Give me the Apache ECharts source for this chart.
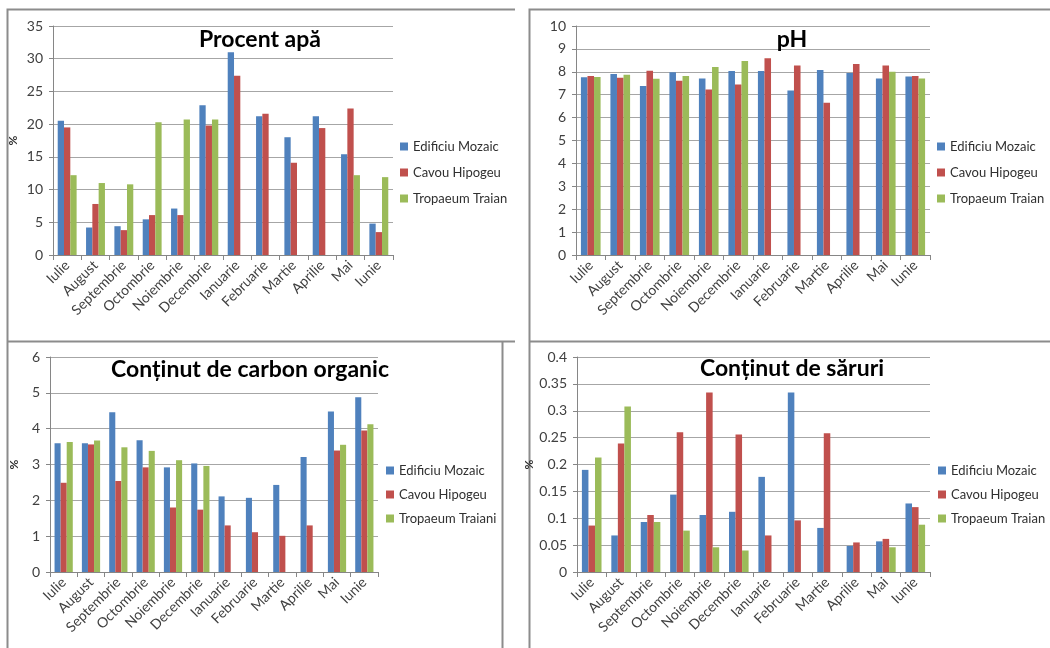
<!DOCTYPE html>
<html>
<head>
<meta charset="utf-8">
<script src="https://cdn.jsdelivr.net/npm/echarts@6/dist/echarts.min.js"></script>
<style>
html,body{margin:0;padding:0;background:#fff;}
#chart{width:1050px;height:648px;}
</style>
</head>
<body>
<div id="chart"></div>
<script>
const months = ['Iulie','August','Septembrie','Octombrie','Noiembrie','Decembrie','Ianuarie','Februarie','Martie','Aprilie','Mai','Iunie'];

const titles = ['Procent apă', 'pH', 'Conținut de carbon organic', 'Conținut de săruri'];
const seriesNames = ['Edificiu Mozaic', 'Cavou Hipogeu', 'Tropaeum Traian'];
const seriesNamesCarbon = ['Edificiu Mozaic', 'Cavou Hipogeu', 'Tropaeum Traiani'];

// Procent apă
const apaMozaic   = [20.5, 4.2, 4.4, 5.45, 7.1, 22.9, 31.0, 21.2, 18.0, 21.2, 15.4, 4.8];
const apaHipogeu  = [19.5, 7.8, 3.8, 6.1, 6.1, 19.8, 27.4, 21.6, 14.1, 19.4, 22.4, 3.5];
const apaTraian   = [12.2, 11.0, 10.8, 20.3, 20.7, 20.7, null, null, null, null, 12.2, 11.9];

// pH
const phMozaic    = [7.76, 7.90, 7.38, 7.98, 7.71, 8.03, 8.03, 7.18, 8.08, 7.95, 7.71, 7.79];
const phHipogeu   = [7.82, 7.74, 8.05, 7.61, 7.23, 7.45, 8.59, 8.27, 6.65, 8.34, 8.27, 7.82];
const phTraian    = [7.77, 7.87, 7.70, 7.82, 8.21, 8.47, null, null, null, null, 8.00, 7.71];

// Conținut de carbon organic
const carbMozaic  = [3.59, 3.59, 4.46, 3.68, 2.92, 3.03, 2.11, 2.07, 2.43, 3.21, 4.48, 4.88];
const carbHipogeu = [2.49, 3.56, 2.54, 2.92, 1.80, 1.74, 1.30, 1.11, 1.01, 1.30, 3.39, 3.95];
const carbTraian  = [3.63, 3.67, 3.48, 3.38, 3.12, 2.96, null, null, null, null, 3.55, 4.12];

// Conținut de săruri
const sarMozaic   = [0.190, 0.068, 0.093, 0.144, 0.106, 0.112, 0.177, 0.334, 0.082, 0.0485, 0.057, 0.1275];
const sarHipogeu  = [0.0864, 0.239, 0.106, 0.260, 0.334, 0.256, 0.068, 0.096, 0.258, 0.055, 0.0616, 0.1207];
const sarTraian   = [0.213, 0.308, 0.093, 0.077, 0.046, 0.040, null, null, null, null, 0.046, 0.088];

const yMax = [35, 10, 6, 0.4];
const yInterval = [5, 1, 1, 0.05];

const colors = ['#4F81BD', '#C0504D', '#9BBB59'];
const FONT = 'Lato, "Liberation Sans", sans-serif';

const grids = [
  {left: 53, width: 340, top: 26, height: 229},
  {left: 576, width: 354, top: 26, height: 229},
  {left: 50, width: 328, top: 357, height: 215},
  {left: 577, width: 353, top: 357, height: 215}
];
const yNameGap = [34, 0, 30, 38];
const yNames = ['%', '', '%', '%'];

const panelData = [
  [apaMozaic, apaHipogeu, apaTraian],
  [phMozaic, phHipogeu, phTraian],
  [carbMozaic, carbHipogeu, carbTraian],
  [sarMozaic, sarHipogeu, sarTraian]
];
const panelNames = [seriesNames, seriesNames, seriesNamesCarbon, seriesNames];

const titlePos = [
  {x: 260, y: 40}, {x: 792, y: 40}, {x: 250, y: 370}, {x: 792, y: 369}
];
const legendPos = [
  {left: 400, top: 140}, {left: 937, top: 140}, {left: 386, top: 464}, {left: 938, top: 464}
];
const legendGap = [13, 13, 11, 11];

const xAxis = [], yAxis = [], series = [], legend = [], title = [];
for (let p = 0; p < 4; p++) {
  xAxis.push({
    gridIndex: p, type: 'category', data: months,
    axisLine: {lineStyle: {color: '#868686', width: 1}},
    axisTick: {show: true, interval: 0, length: 5, lineStyle: {color: '#868686'}},
    axisLabel: {rotate: 45, interval: 0, margin: 8, color: '#404040', fontSize: 14, fontFamily: FONT}
  });
  yAxis.push({
    gridIndex: p, type: 'value', min: 0, max: yMax[p], interval: yInterval[p],
    name: yNames[p], nameLocation: 'middle', nameGap: yNameGap[p], nameRotate: 90,
    nameTextStyle: {color: '#303030', fontSize: 12, fontWeight: 'bold', fontFamily: FONT},
    axisLine: {show: true, lineStyle: {color: '#868686'}},
    axisTick: {show: true, length: 4, lineStyle: {color: '#868686'}},
    axisLabel: {color: '#404040', fontSize: 14, margin: 10, fontFamily: FONT},
    splitLine: {show: true, lineStyle: {color: '#a6a6a6', width: 1}}
  });
  for (let s = 0; s < 3; s++) {
    series.push({
      type: 'bar', name: panelNames[p][s], xAxisIndex: p, yAxisIndex: p,
      data: panelData[p][s], barGap: '0%', barCategoryGap: '33.3%',
      itemStyle: {color: colors[s]}, silent: true, animation: false
    });
  }
  legend.push({
    orient: 'vertical', left: legendPos[p].left, top: legendPos[p].top,
    data: panelNames[p], itemWidth: 8, itemHeight: 8, itemGap: legendGap[p],
    padding: 0, icon: 'rect', selectedMode: false,
    textStyle: {color: '#303030', fontSize: 13, fontFamily: FONT}
  });
  title.push({
    text: titles[p], left: titlePos[p].x, top: titlePos[p].y, textAlign: 'center', textVerticalAlign: 'middle',
    padding: 0,
    textStyle: {fontSize: 23, fontWeight: 'bold', color: '#000', fontFamily: FONT}
  });
}

const lineStyle = {stroke: '#8c8c8c', lineWidth: 2};
const graphic = [
  {type: 'polyline', shape: {points: [[515, 9.5], [7.5, 9.5], [7.5, 648]]}, style: lineStyle, silent: true},
  {type: 'line', shape: {x1: 7, y1: 341.5, x2: 515, y2: 341.5}, style: lineStyle, silent: true},
  {type: 'line', shape: {x1: 502.5, y1: 341.5, x2: 502.5, y2: 648}, style: lineStyle, silent: true},
  {type: 'polyline', shape: {points: [[1050, 9.5], [529.5, 9.5], [529.5, 648]]}, style: lineStyle, silent: true},
  {type: 'line', shape: {x1: 529, y1: 341.5, x2: 1050, y2: 341.5}, style: lineStyle, silent: true}
];

const chart = echarts.init(document.getElementById('chart'), null, {renderer: 'canvas'});
chart.setOption({
  animation: false,
  backgroundColor: '#fff',
  title: title,
  legend: legend,
  grid: grids,
  xAxis: xAxis,
  yAxis: yAxis,
  series: series,
  graphic: graphic
});
</script>
</body>
</html>
